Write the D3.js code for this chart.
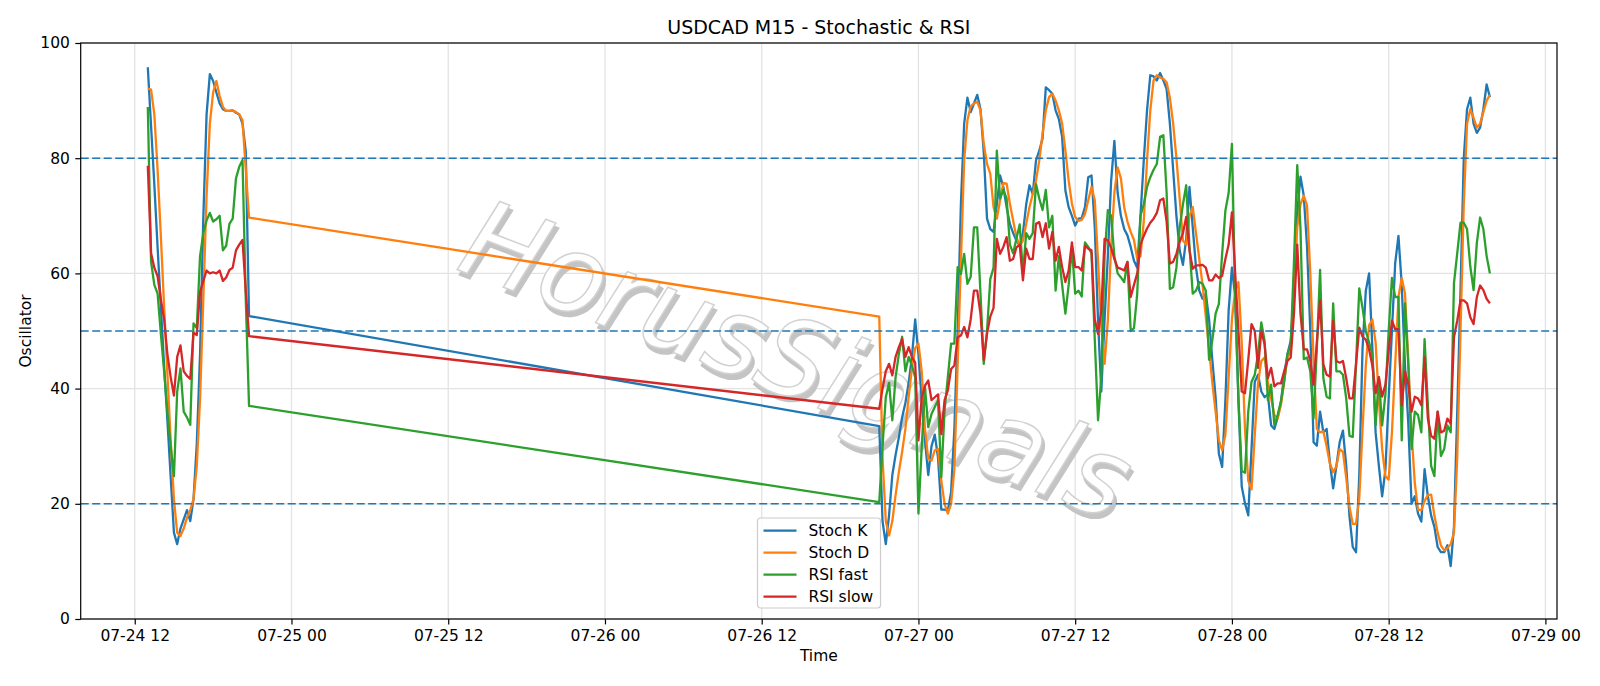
<!DOCTYPE html>
<html>
<head>
<meta charset="utf-8">
<script src="https://cdn.jsdelivr.net/npm/d3@7"></script>
<style>
  body { margin: 0; background: #fff; }
  svg { display: block; font-family: 'DejaVu Sans', sans-serif; }
</style>
</head>
<body>
<svg id="chart" width="1600" height="686"></svg>
<script>
// M15 bars: Friday session, then Sunday open onwards
const sessionStarts = ['2020-07-24T13:00:00Z', '2020-07-26T21:00:00Z']
const sessionBars = [32, 188]

const seriesNames = ['Stoch K', 'Stoch D', 'RSI fast', 'RSI slow']
const seriesColors = ['#1f77b4', '#ff7f0e', '#2ca02c', '#d62728']
const levels = [80, 50, 20]
const yTicks = [0, 20, 40, 60, 80, 100]

const stochK = [
  95.8, 85.6, 75.4, 64.5, 54.2, 43.9, 34.5, 24.7, 15.0, 13.0, 15.7, 17.3, 18.9, 17.0, 20.8, 30.4,
  45.9, 69.6, 87.6, 94.6, 93.4, 91.4, 89.5, 88.5, 88.2, 88.2, 88.3, 87.9, 87.6, 86.0, 81.2, 52.6,
  33.5, 17, 13, 18, 25, 28.5, 31.5, 35, 37.5, 41,
  45.5, 52, 46, 38, 31, 25, 30, 32, 28, 19,
  19, 18.8, 22, 33, 50, 72, 86, 90.5, 88, 89.5,
  91, 88.5, 81, 69.5, 67.7, 67.2, 72, 77, 75, 71.5,
  68.6, 67, 65.7, 64.8, 67, 72, 75.3, 73.8, 79.6, 81.3,
  83.4, 92.3, 91.8, 91.2, 88.3, 86.8, 83.7, 74.4, 71.5, 70,
  68.3, 69.5, 69.6, 71.5, 76.7, 77, 68, 51.8, 39.5, 52,
  63, 76, 83, 74, 70, 67.7, 66.6, 64.6, 62.2, 61,
  70, 79.6, 88.3, 94.4, 94.2, 93.5, 94.8, 93.5, 92, 86,
  78, 70, 64, 61.5, 66, 75, 68, 61, 57, 55.6,
  56.5, 52, 45, 38.5, 28.7, 26.4, 38, 53.6, 61, 56,
  38, 23, 20.1, 18, 29.5, 41.2, 42.4, 39.5, 38.5, 39,
  33.6, 33, 35, 37.7, 42.4, 46, 48.3, 55.9, 70.6, 76.8,
  73.5, 64.7, 50, 30.7, 30.1, 36, 32.4, 33, 27.2, 22.7,
  26.6, 30.7, 32.7, 26.6, 17.8, 12.5, 11.6, 25, 47, 57,
  60, 47.1, 32.4, 26.6, 21.3, 25.9, 38.3, 50, 61.8, 66.5,
  58, 44, 34, 20, 21.3, 18.3, 16.9, 26, 21.3, 18,
  16, 12.5, 11.6, 11.6, 12.8, 9.2, 16, 36, 57, 80,
  88.5, 90.5, 86, 84.4, 85.3, 88.5, 92.8, 90.6
]

const stochD = [
  92.1, 91.9, 87.6, 78, 66.4, 54.2, 42.6, 31.1, 20.8, 15.0, 14.4, 15.7, 17.6, 18.9, 20.8, 26.6,
  38.2, 55.5, 73.5, 86, 91.4, 93.4, 90.8, 88.9, 88.2, 88.2, 88.3, 88, 87.6, 86.6, 78, 69.7,
  52.5, 28, 17, 14.5, 17, 21.5, 25.5, 29, 33, 38.5,
  43.5, 47, 47.8, 43, 33, 27.8, 27.5, 29.3, 29.5, 24,
  20, 18.3, 20, 26, 44, 62, 79.6, 86.6, 89, 89.5,
  89.8, 88.3, 82.5, 79, 77.3, 71.5, 69.5, 72.7, 75.7, 75.6,
  72.1, 69.2, 66.3, 64.8, 65.7, 68.6, 71.5, 73.8, 76.1, 79.6,
  84.2, 88.3, 90.6, 91.2, 90, 88.3, 86, 81.3, 76.1, 72.1,
  69.8, 69.1, 69.3, 70.3, 72.7, 75, 72.7, 62.2, 50.7, 44.3,
  51.8, 64.6, 74, 78.4, 76.5, 71.5, 69, 67.2, 65.8, 62.5,
  63, 69, 79.6, 88.3, 93.5, 94.4, 94, 93.8, 93.2, 90.5,
  86, 80, 73, 65.7, 65, 70, 71.5, 67, 62.5, 58,
  52.5, 47, 41, 36, 31, 29.3, 32, 42, 52, 57,
  58.5, 48, 33, 24, 22.5, 32, 41, 44.8, 45.4, 41.2,
  38.3, 35.4, 34.8, 37.1, 41.2, 45.4, 46.5, 58.9, 68, 72,
  73.5, 71.8, 60, 45, 33, 32.4, 32.6, 30, 27, 25.5,
  26.5, 29.5, 29, 24.5, 19.5, 16.5, 16.5, 21, 33, 44,
  51, 52, 48, 38, 29.5, 24.8, 24.2, 32.4, 44.2, 55.9,
  59.2, 56.5, 45, 32.4, 23.6, 19, 18.9, 20.5, 21.5, 21.6,
  18, 15, 12.8, 11.9, 12.3, 13, 15, 28, 50, 72,
  86, 88.5, 87, 85.3, 86, 88, 90, 91
]

const rsiFast = [
  88.9, 62, 58, 56.5, 49.5, 43, 36, 30, 24.8, 39.5, 43.5, 36, 35, 33.7, 51.3, 50.5,
  63, 67, 69.2, 70.5, 69, 69.4, 70, 64, 64.8, 68.6, 69.5, 76.5, 78.5, 79.7, 55.5, 37,
  20.3, 30, 38.5, 41, 34.5, 42, 46, 49, 43, 45.5,
  44, 42, 18.3, 29.8, 40.2, 33.3, 35.6, 36.8, 38, 24.6,
  36.2, 42, 47.8, 47.8, 61.1, 59.9, 63.4, 58.2, 59.4, 68,
  68, 56.5, 44.3, 50, 59, 61, 81.3, 73, 74.5, 73,
  65, 63.5, 66, 68.5, 60, 67, 66, 67, 75.5, 73,
  71, 74.5, 68, 70, 57, 63, 58, 53, 58, 64.5,
  56.5, 57, 56, 65.4, 64.6, 63.5, 48.5, 34.5, 42, 63,
  71, 70, 63, 60, 59.3, 58.5, 62, 50, 50.5, 56.5,
  70, 72, 75, 76.7, 78, 79, 83.7, 84, 74, 57.3,
  57.6, 61, 68, 72, 75.3, 64.6, 56.5, 57, 58.5, 58.2,
  57, 45, 48.4, 53, 54.7, 63.4, 70.9, 74, 82.5, 56,
  38, 25.7, 25.4, 36, 41.2, 42.4, 46, 51.5, 48.3, 38,
  40.7, 33.6, 35.4, 37.7, 41.2, 45.9, 47.7, 62, 78.8, 67.7,
  45.1, 45.4, 43, 34.8, 47, 60.6, 41.8, 38.6, 38.3, 54.8,
  43, 43, 42.4, 38.3, 31.8, 31.6, 44.2, 57.4, 54, 50,
  48, 46, 33.6, 42, 33.6, 39, 50, 59.2, 55.9, 55.9,
  31, 54.8, 44.2, 29.5, 36, 35.4, 32.4, 48.6, 37.1, 26.6,
  24.8, 36, 28.3, 29.5, 33.6, 32.4, 58.3, 63.5, 68.8, 68.8,
  67.7, 61.2, 57.1, 65.3, 69.7, 67.7, 63, 60
]

const rsiSlow = [
  78.7, 63.5, 61, 59.5, 55.5, 52, 46, 42, 38.8, 45.5, 47.5, 43, 42.2, 41.7, 49.7, 49.3,
  56.8, 58.7, 60.5, 60, 60.2, 60, 60.5, 58.7, 59.3, 60.6, 61, 64, 65, 65.8, 57, 49.1,
  36.5, 40, 43, 44.3, 42.3, 45.5, 47.2, 48.6, 45.5, 47.2,
  45.5, 44.5, 31, 38.5, 40.5, 41.4, 38, 38.5, 39, 32.1,
  38, 39.7, 43.4, 44, 48.9, 49.2, 50.7, 48.9, 52, 57,
  57, 53, 45, 49.5, 52.5, 54, 66, 63.4, 64.6, 66.3,
  62.2, 62.5, 64.5, 65, 58.8, 64.3, 62.5, 62.5, 68.6, 68.9,
  66.3, 68.7, 64.3, 67.2, 62.2, 64.6, 61.1, 58.5, 60.5, 65.4,
  61.1, 61.1, 60.5, 64.8, 64.3, 64, 52, 49.5, 53.6, 66,
  65.7, 64.5, 62.5, 61, 60.8, 60.5, 62, 55.9, 58, 60,
  65, 66.5, 67.8, 68.8, 69.5, 70.5, 72.7, 73, 69, 61.7,
  62, 63.4, 65.5, 67, 69.8, 64, 60.8, 61.4, 61.4, 61.5,
  61, 58.8, 58.8, 59.8, 59.2, 59.6, 62.5, 65, 70.6, 60,
  50, 39.5, 39.2, 45, 51.2, 50, 43.6, 50, 47.7, 41.8,
  43.6, 40.4, 40.9, 40.9, 43, 44.8, 45.4, 53, 65, 53,
  46.8, 46.8, 44.8, 40.7, 48, 55.3, 44.2, 42.4, 42.1, 51.8,
  44.8, 44.5, 44.8, 41.8, 38.3, 38.3, 44.2, 50.6, 49, 48.5,
  46.8, 44, 39.2, 42, 38.6, 40.7, 46.5, 51.8, 50.3, 50.3,
  37.1, 43, 40.7, 36, 38.6, 38.3, 37.1, 45.4, 34.8, 31.8,
  31.3, 36, 32.4, 32.7, 34.8, 33.9, 48.9, 51.8, 55.3, 55.3,
  54.8, 52.4, 51.2, 55.9, 57.9, 57.1, 55.6, 54.8
]

const seriesValues = [stochK, stochD, rsiFast, rsiSlow]

const width = 1600
const height = 686
const margin = { top: 43, right: 43, bottom: 67, left: 80.7 }
const fontSize = 15.5

function buildTimes() {
  const times = []
  sessionStarts.forEach((start, k) => {
    const t0 = new Date(start)
    for (let i = 0; i < sessionBars[k]; i++) {
      times.push(d3.utcMinute.offset(t0, 15 * i))
    }
  })
  return times
}

function buildScales(times) {
  const [t0, t1] = d3.extent(times)
  const pad = (t1 - t0) * 0.05
  const x = d3
    .scaleUtc()
    .domain([new Date(+t0 - pad), new Date(+t1 + pad)])
    .range([margin.left, width - margin.right])
  const y = d3
    .scaleLinear()
    .domain([0, 100])
    .range([height - margin.bottom, margin.top])
  return { x, y }
}

function buildGrid(svg, x, y) {
  const grid = svg.append('g').attr('class', 'grid')
  const xTickValues = x.ticks(d3.utcHour.every(12))

  grid
    .selectAll('line.vx')
    .data(xTickValues)
    .enter()
    .append('line')
    .attr('x1', (d) => x(d))
    .attr('x2', (d) => x(d))
    .attr('y1', y(0))
    .attr('y2', y(100))
    .attr('stroke', '#e3e3e3')
    .attr('stroke-width', 1.3)

  grid
    .selectAll('line.hy')
    .data(yTicks)
    .enter()
    .append('line')
    .attr('x1', x.range()[0])
    .attr('x2', x.range()[1])
    .attr('y1', (d) => y(d))
    .attr('y2', (d) => y(d))
    .attr('stroke', '#e3e3e3')
    .attr('stroke-width', 1.3)
}

function buildWatermark(svg, x, y) {
  const cx = (x.range()[0] + x.range()[1]) / 2 - 22
  const cy = y(45)
  const g = svg
    .append('g')
    .attr('transform', `translate(${cx},${cy}) rotate(21)`)
    .attr('font-size', 108)
    .attr('font-style', 'italic')
    .attr('text-anchor', 'middle')
    .attr('dominant-baseline', 'central')

  g.append('text')
    .attr('x', 4)
    .attr('y', 4)
    .attr('fill', '#c4c4c4')
    .attr('stroke', '#c4c4c4')
    .attr('stroke-width', 2)
    .text('HorusSignals')

  g.append('text')
    .attr('fill', '#ffffff')
    .attr('stroke', '#d2d2d2')
    .attr('stroke-width', 1.5)
    .text('HorusSignals')
}

function buildLevels(svg, x, y) {
  svg
    .append('g')
    .selectAll('line')
    .data(levels)
    .enter()
    .append('line')
    .attr('x1', x.range()[0])
    .attr('x2', x.range()[1])
    .attr('y1', (d) => y(d))
    .attr('y2', (d) => y(d))
    .attr('stroke', '#1f77b4')
    .attr('stroke-width', 1.5)
    .attr('stroke-dasharray', '8,3.5')
}

function buildSeries(svg, x, y, times) {
  const line = d3
    .line()
    .x((d, i) => x(times[i]))
    .y((d) => y(d))

  svg
    .append('g')
    .selectAll('path')
    .data(seriesValues)
    .enter()
    .append('path')
    .attr('d', (d) => line(d))
    .attr('fill', 'none')
    .attr('stroke', (d, i) => seriesColors[i])
    .attr('stroke-width', 2.3)
    .attr('stroke-linejoin', 'round')
}

function buildAxes(svg, x, y) {
  const xAxis = d3
    .axisBottom(x)
    .ticks(d3.utcHour.every(12))
    .tickFormat(d3.utcFormat('%m-%d %H'))
    .tickSize(5.4)
    .tickPadding(5.4)
    .tickSizeOuter(0)

  const yAxis = d3
    .axisLeft(y)
    .tickValues(yTicks)
    .tickSize(5.4)
    .tickPadding(5.4)
    .tickSizeOuter(0)

  const gx = svg
    .append('g')
    .attr('transform', `translate(0,${y(0)})`)
    .call(xAxis)
  const gy = svg
    .append('g')
    .attr('transform', `translate(${x.range()[0]},0)`)
    .call(yAxis)

  ;[gx, gy].forEach((g) => {
    g.select('.domain').remove()
    g.attr('font-size', fontSize).attr('font-family', "'DejaVu Sans', sans-serif")
    g.selectAll('line').attr('stroke', '#000').attr('stroke-width', 1.2)
    g.selectAll('text').attr('fill', '#000')
  })

  svg
    .append('rect')
    .attr('x', x.range()[0])
    .attr('y', y(100))
    .attr('width', x.range()[1] - x.range()[0])
    .attr('height', y(0) - y(100))
    .attr('fill', 'none')
    .attr('stroke', '#000')
    .attr('stroke-width', 1.2)
}

function buildLabels(svg, x, y) {
  const cx = (x.range()[0] + x.range()[1]) / 2

  svg
    .append('text')
    .attr('x', cx)
    .attr('y', 34)
    .attr('text-anchor', 'middle')
    .attr('font-size', 19)
    .text('USDCAD M15 - Stochastic & RSI')

  svg
    .append('text')
    .attr('x', cx)
    .attr('y', 661)
    .attr('text-anchor', 'middle')
    .attr('font-size', fontSize)
    .text('Time')

  svg
    .append('text')
    .attr('transform', `translate(31,${(y(0) + y(100)) / 2}) rotate(-90)`)
    .attr('text-anchor', 'middle')
    .attr('font-size', fontSize)
    .text('Oscillator')
}

function buildLegend(svg) {
  const legend = svg.append('g').attr('transform', 'translate(757.5,518)')

  legend
    .append('rect')
    .attr('width', 123)
    .attr('height', 90)
    .attr('rx', 3)
    .attr('fill', '#fff')
    .attr('fill-opacity', 0.8)
    .attr('stroke', '#cccccc')
    .attr('stroke-width', 1.2)

  const rows = legend
    .selectAll('g')
    .data(seriesNames)
    .enter()
    .append('g')
    .attr('transform', (d, i) => `translate(0,${12.7 + i * 22})`)

  rows
    .append('line')
    .attr('x1', 6)
    .attr('x2', 39)
    .attr('stroke', (d, i) => seriesColors[i])
    .attr('stroke-width', 2.3)

  rows
    .append('text')
    .attr('x', 51)
    .attr('dy', '0.36em')
    .attr('font-size', fontSize)
    .text((d) => d)
}

function generateChart() {
  const svg = d3.select('#chart')
  const times = buildTimes()
  const { x, y } = buildScales(times)

  buildGrid(svg, x, y)
  buildWatermark(svg, x, y)
  buildSeries(svg, x, y, times)
  buildLevels(svg, x, y)
  buildAxes(svg, x, y)
  buildLabels(svg, x, y)
  buildLegend(svg)
}

generateChart()
</script>
</body>
</html>
